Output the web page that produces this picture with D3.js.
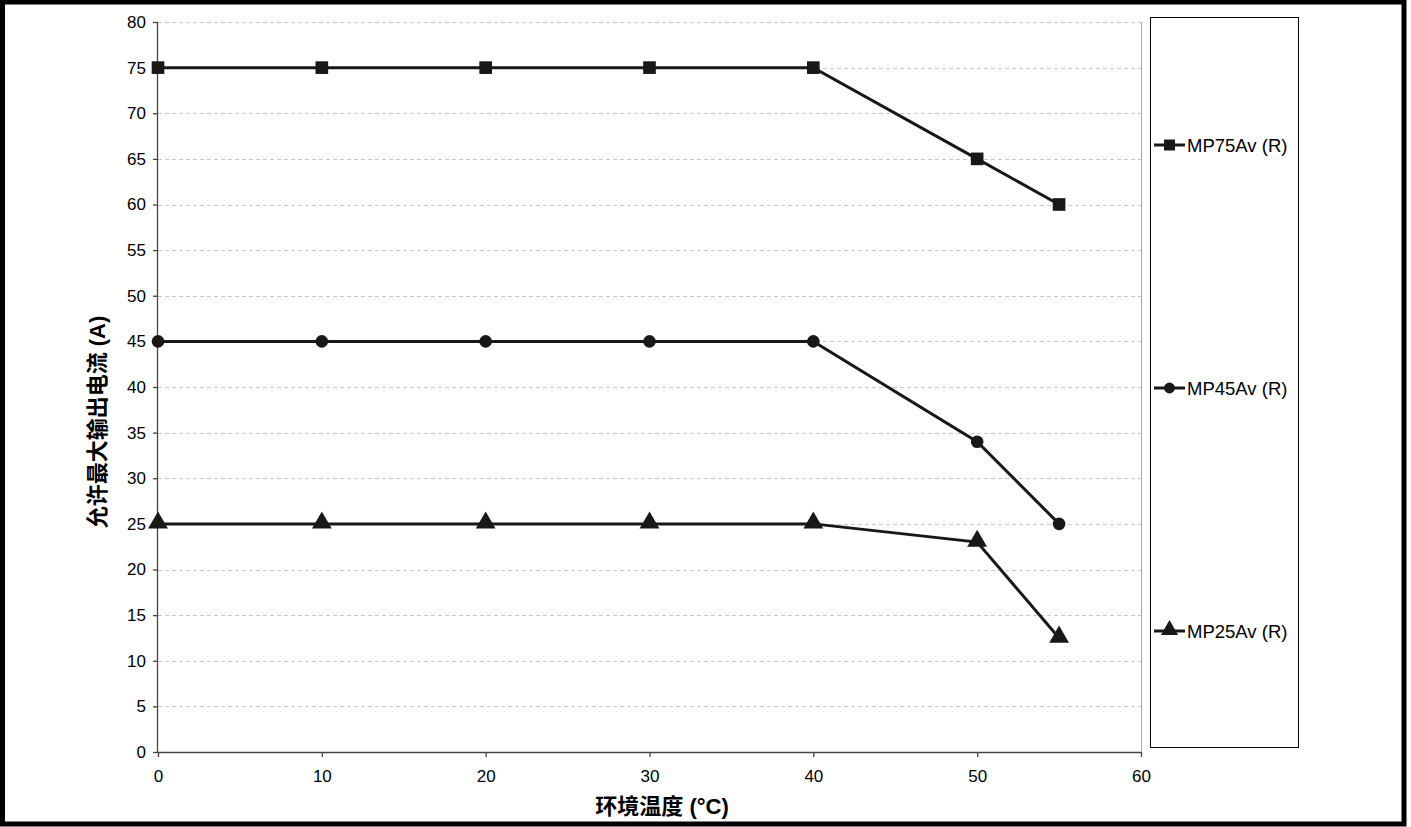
<!DOCTYPE html>
<html>
<head>
<meta charset="utf-8">
<script src="https://cdn.jsdelivr.net/npm/d3@7"></script>
<style>
  body { margin: 0; background: #fff; }
  svg { display: block; font-family: "Liberation Sans", Arial, "Noto Sans CJK SC", sans-serif; }
  .tick text { font-size: 17px; fill: #000; }
  .axis-title { font-size: 22px; font-weight: bold; fill: #000; font-family: "Liberation Sans", Arial, "Noto Sans CJK SC", sans-serif; }
</style>
</head>
<body>
<script>
(function () {
    var temps = [0, 10, 20, 30, 40, 50, 55];
    var seriesNames = ["MP75Av (R)", "MP45Av (R)", "MP25Av (R)"];
    var mp75 = [75, 75, 75, 75, 75, 65, 60];
    var mp45 = [45, 45, 45, 45, 45, 34, 25];
    var mp25 = [25, 25, 25, 25, 25, 23, 12.5];
    var xTicks = [0, 10, 20, 30, 40, 50, 60];
    var yTicks = d3.range(0, 81, 5);
    var markers = [d3.symbolSquare, d3.symbolCircle, d3.symbolTriangle];
    var markerSizes = [160, 125, 170];

    var W = 1411, H = 827;
    var margin = { top: 22, left: 158 };
    var width = 1141 - 158;
    var height = 752 - 22;
    var ink = "#1a1717";

    var svg = d3.select("body").append("svg")
        .attr("width", W)
        .attr("height", H);

    // outer frame
    svg.append("rect")
        .attr("x", 2.5).attr("y", 2).attr("width", 1401.5).attr("height", 822)
        .attr("fill", "none").attr("stroke", "#000").attr("stroke-width", 5);

    var g = svg.append("g")
        .attr("transform", "translate(" + margin.left + "," + margin.top + ")");

    var x = d3.scaleLinear().domain([0, 60]).range([0, width]);
    var y = d3.scaleLinear().domain([0, 80]).range([height, 0]);

    // grid lines
    g.append("g").selectAll("line")
        .data(yTicks.filter(d => d > 0))
        .enter().append("line")
            .attr("x1", 0).attr("x2", width)
            .attr("y1", d => Math.round(y(d)) + 0.5)
            .attr("y2", d => Math.round(y(d)) + 0.5)
            .attr("stroke", "#c8c8c8")
            .attr("stroke-dasharray", "4,3");

    // right border of plot area
    g.append("line")
        .attr("x1", width + 0.5).attr("x2", width + 0.5)
        .attr("y1", 0).attr("y2", height)
        .attr("stroke", "#aaa");

    var yAxis = g.append("g")
        .call(d3.axisLeft(y).tickValues(yTicks).tickSize(5).tickPadding(7));
    var xAxis = g.append("g")
        .attr("transform", "translate(0," + height + ")")
        .call(d3.axisBottom(x).tickValues(xTicks).tickSize(5).tickPadding(13));
    [xAxis, yAxis].forEach(function (a) {
        a.selectAll("path, line").attr("stroke", "#444").attr("stroke-width", 1.3);
        a.select(".domain").attr("d", a === xAxis ? "M0,0.5H" + width : "M-0.5," + height + "V0");
    });

    var allSeries = [mp75, mp45, mp25];
    var line = d3.line()
        .x((d, i) => x(temps[i]))
        .y(d => y(d));

    allSeries.forEach(function (vals, k) {
        g.append("path")
            .datum(vals)
            .attr("fill", "none")
            .attr("stroke", ink)
            .attr("stroke-width", 3)
            .attr("d", line);
        g.selectAll(".m" + k)
            .data(vals)
            .enter().append("path")
                .attr("class", "m" + k)
                .attr("fill", ink)
                .attr("transform", (d, i) => "translate(" + x(temps[i]) + "," + (y(d) - (k === 2 ? 1 : 0)) + ")")
                .attr("d", d3.symbol().type(markers[k]).size(markerSizes[k]));
    });

    // axis titles
    svg.append("text")
        .attr("class", "axis-title")
        .attr("x", 662).attr("y", 814)
        .attr("text-anchor", "middle")
        .text("环境温度 (°C)");
    svg.append("text")
        .attr("class", "axis-title")
        .attr("transform", "translate(105,422) rotate(-90)")
        .attr("text-anchor", "middle")
        .text("允许最大输出电流 (A)");

    // legend
    var legend = svg.append("g");
    legend.append("rect")
        .attr("x", 1150.5).attr("y", 17.5).attr("width", 148).attr("height", 730)
        .attr("fill", "none").attr("stroke", "#000").attr("stroke-width", 1);
    var legendY = [145, 388, 631];
    seriesNames.forEach(function (name, k) {
        var row = legend.append("g").attr("transform", "translate(1154," + legendY[k] + ")");
        row.append("line")
            .attr("x1", 0).attr("x2", 31).attr("y1", 0).attr("y2", 0)
            .attr("stroke", ink).attr("stroke-width", 3);
        row.append("path")
            .attr("transform", "translate(15.5," + (k === 2 ? -1 : 0) + ")")
            .attr("fill", ink)
            .attr("d", d3.symbol().type(markers[k]).size(markerSizes[k] * 0.75));
        row.append("text")
            .attr("x", 33).attr("y", 6.5)
            .attr("font-size", 18.5)
            .text(name);
    });
})();
</script>
</body>
</html>
